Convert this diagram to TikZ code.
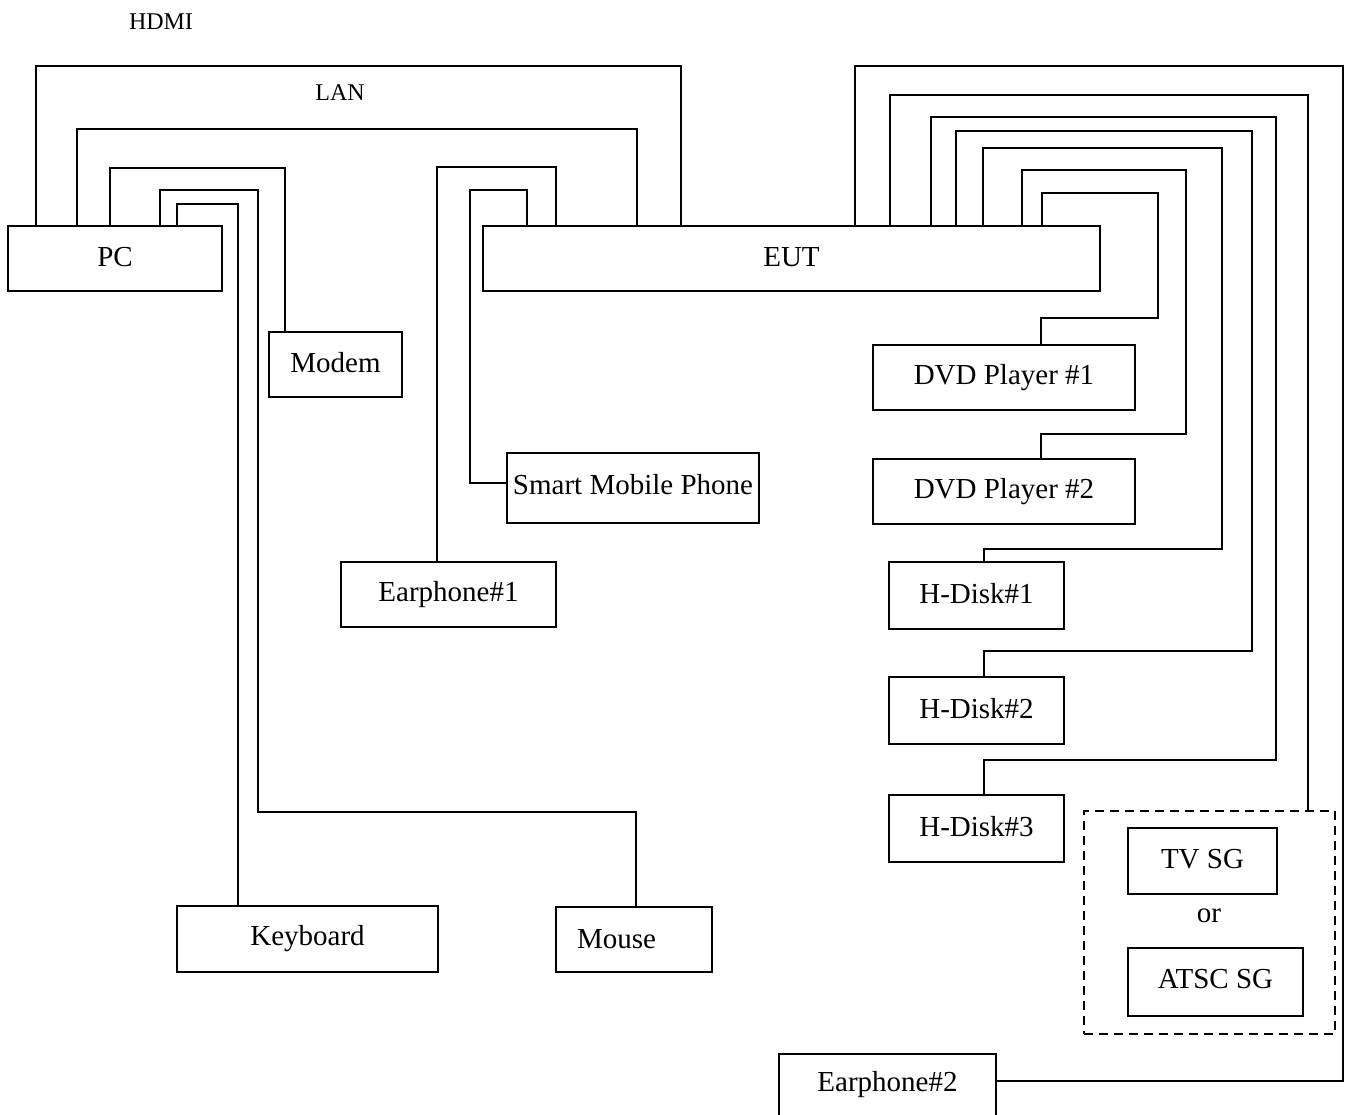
\documentclass[tikz,border=0pt]{standalone}
\usepackage{fontspec}
\setmainfont{Liberation Serif}
\begin{document}
\begin{tikzpicture}[x=1pt,y=-1pt,
  every node/.style={font=\fontsize{29}{34}\selectfont},
  box/.style={draw,line width=1.6pt,rectangle,inner sep=0pt},
  wire/.style={line width=1.6pt},
  lbl/.style={font=\fontsize{24}{28}\selectfont,inner sep=0pt}]
\useasboundingbox (0,0) rectangle (1351,1115);
% boxes
\node[box,minimum width=214pt,minimum height=65pt] (PC) at (115,258.5) {\raisebox{3pt}{PC}};
\node[box,minimum width=617pt,minimum height=65pt] (EUT) at (791.5,258.5) {\raisebox{3pt}{EUT}};
\node[box,minimum width=133pt,minimum height=65pt] (Modem) at (335.5,364.5) {\raisebox{4pt}{Modem}};
\node[box,minimum width=252pt,minimum height=70pt] (Smart) at (633,488) {\raisebox{7pt}{Smart Mobile Phone}};
\node[box,minimum width=215pt,minimum height=65pt] (E1) at (448.5,594.5) {\raisebox{1pt}{Earphone\#1}};
\node[box,minimum width=261pt,minimum height=66pt] (Key) at (307.5,939) {\raisebox{4pt}{Keyboard}};
\node[box,minimum width=156pt,minimum height=65pt] (Mouse) at (634,939.5) {\makebox[150pt][l]{\hspace{18pt}\raisebox{1pt}{Mouse}}};
\node[box,minimum width=262pt,minimum height=65pt] (DVD1) at (1004,377.5) {\raisebox{2pt}{DVD Player \#1}};
\node[box,minimum width=262pt,minimum height=65pt] (DVD2) at (1004,491.5) {\raisebox{2pt}{DVD Player \#2}};
\node[box,minimum width=175pt,minimum height=67pt] (HD1) at (976.5,595.5) {\raisebox{5pt}{H-Disk\#1}};
\node[box,minimum width=175pt,minimum height=67pt] (HD2) at (976.5,710.5) {\raisebox{5pt}{H-Disk\#2}};
\node[box,minimum width=175pt,minimum height=67pt] (HD3) at (976.5,828.5) {\raisebox{5pt}{H-Disk\#3}};
\node[box,dashed,dash pattern=on 9pt off 6pt,minimum width=251pt,minimum height=223pt] (SG) at (1209.5,922.5) {};
\node[box,minimum width=149pt,minimum height=66pt] (TV) at (1202.5,861) {\raisebox{5pt}{TV SG}};
\node[inner sep=0pt] (or) at (1209,916) {or};
\node[box,minimum width=175pt,minimum height=68pt] (ATSC) at (1215.5,982) {\raisebox{6pt}{ATSC SG}};
\node[box,minimum width=217pt,minimum height=62pt] (E2) at (887.5,1085) {\raisebox{-3pt}{Earphone\#2}};
% labels
\node[lbl] (hdmi) at (161,22) {HDMI};
\node[lbl] (lan) at (340,93) {LAN};
% PC wires
\draw[wire] (36,0 |- PC.north) |- (681,66) -- (681,0 |- EUT.north);
\draw[wire] (77,0 |- PC.north) |- (637,129) -- (637,0 |- EUT.north);
\draw[wire] (110,0 |- PC.north) |- (285,168) -- (285,0 |- Modem.north);
\draw[wire] (160,0 |- PC.north) |- (258,190) |- (636,812) -- (636,0 |- Mouse.north);
\draw[wire] (177,0 |- PC.north) |- (238,204) -- (238,0 |- Key.north);
% EUT wires left
\draw[wire] (556,0 |- EUT.north) |- (437,167) -- (437,0 |- E1.north);
\draw[wire] (527,0 |- EUT.north) |- (470,190) |- (Smart.west |- 0,483);
% EUT wires right
\draw[wire] (1042,0 |- EUT.north) |- (1158,193) |- (1041,318) -- (1041,0 |- DVD1.north);
\draw[wire] (1022,0 |- EUT.north) |- (1186,170) |- (1041,434) -- (1041,0 |- DVD2.north);
\draw[wire] (983,0 |- EUT.north) |- (1222,148) |- (984,549) -- (984,0 |- HD1.north);
\draw[wire] (956,0 |- EUT.north) |- (1252,131) |- (984,651) -- (984,0 |- HD2.north);
\draw[wire] (931,0 |- EUT.north) |- (1276,117) |- (984,760) -- (984,0 |- HD3.north);
\draw[wire] (890,0 |- EUT.north) |- (1308,95) -- (1308,0 |- SG.north);
\draw[wire] (855,0 |- EUT.north) |- (1343,66) |- (E2.east |- 0,1081);
\end{tikzpicture}
\end{document}
